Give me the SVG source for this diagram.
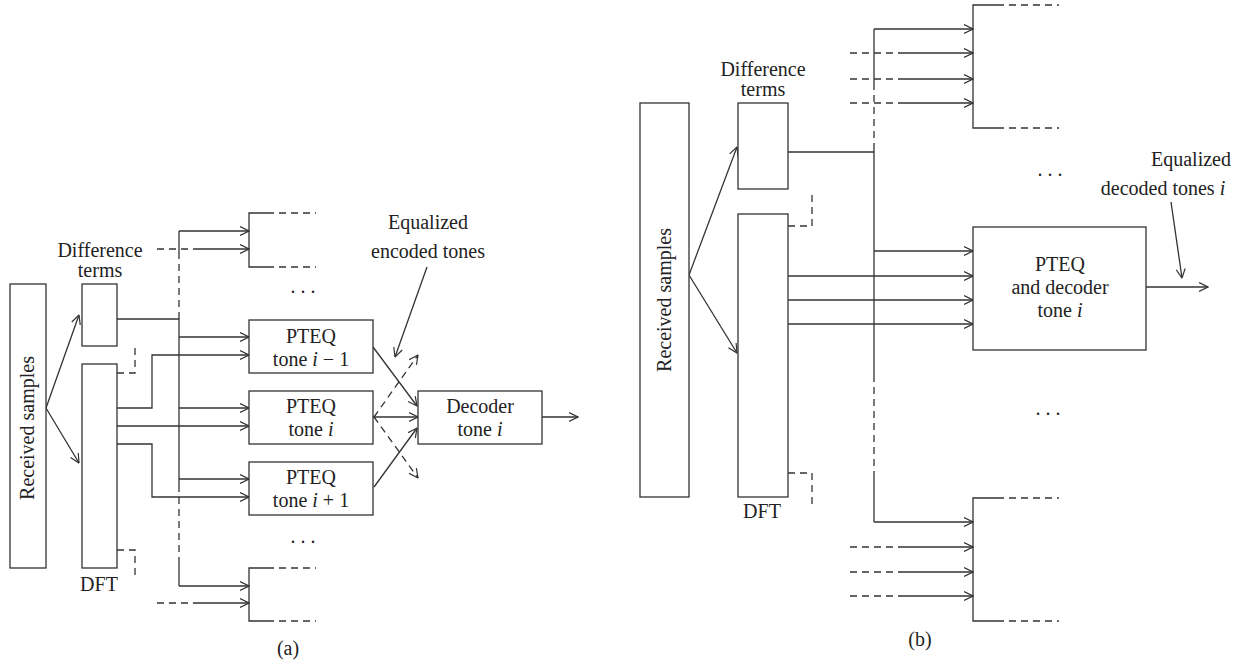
<svg xmlns="http://www.w3.org/2000/svg" width="1242" height="667" viewBox="0 0 1242 667">
<style>
  .box { fill: #fff; stroke: #333; stroke-width: 1.3; }
  .ln { fill: none; stroke: #333; stroke-width: 1.3; }
  .ds { fill: none; stroke: #333; stroke-width: 1.3; stroke-dasharray: 7 5; }
  .ar { marker-end: url(#ah); }
  text { font-family: "Liberation Serif", "Times New Roman", serif; font-size: 20px; fill: #222; text-anchor: middle; }
  .it { font-style: italic; }
</style>
<defs>
  <marker id="ah" viewBox="0 0 10 10" refX="9.5" refY="5" markerWidth="10" markerHeight="10" markerUnits="userSpaceOnUse" orient="auto">
    <path d="M0.5,0.5 L9.5,5 L0.5,9.5" fill="none" stroke="#333" stroke-width="1.2"/>
  </marker>
</defs>
<rect width="1242" height="667" fill="#fff"/>

<!-- ===== Diagram (a) ===== -->
<g id="connectors-a">
  <path class="ln ar" d="M46,408 L79,315"/>
  <path class="ln ar" d="M46,408 L79,463"/>
  <path class="ds" d="M117,373 H135 V343"/>
  <path class="ds" d="M117,550 H135 V577"/>
  <path class="ln" d="M117,319 H179"/>
  <path class="ln" d="M179,231 V252"/>
  <path class="ds" d="M179,252 V319"/>
  <path class="ln" d="M179,319 V485"/>
  <path class="ds" d="M179,485 V560"/>
  <path class="ln" d="M179,560 V586"/>
  <path class="ln ar" d="M179,231 H249"/>
  <path class="ln ar" d="M179,337 H249"/>
  <path class="ln ar" d="M179,408 H249"/>
  <path class="ln ar" d="M179,479 H249"/>
  <path class="ln ar" d="M179,586 H249"/>
  <path class="ln ar" d="M117,408 H152 V355 H249"/>
  <path class="ln ar" d="M117,426 H249"/>
  <path class="ln ar" d="M117,444 H152 V497 H249"/>
  <path class="ds" d="M157,249 H200"/>
  <path class="ln ar" d="M200,249 H249"/>
  <path class="ds" d="M157,603 H200"/>
  <path class="ln ar" d="M200,603 H249"/>
  <path class="ln ar" d="M373,347 L417,406"/>
  <path class="ln ar" d="M373,417 H418"/>
  <path class="ln ar" d="M374,487 L417,428"/>
  <path class="ds ar" d="M374,417 L418,355"/>
  <path class="ds ar" d="M374,417 L418,478"/>
  <path class="ln ar" d="M542,417 H578"/>
  <path class="ln ar" d="M427,267 L395,357"/>
</g>

<g id="recv-a">
  <rect class="box" x="10" y="284" width="36" height="284"/>
  <text transform="translate(34,428) rotate(-90)">Received samples</text>
</g>
<g id="diff-a">
  <rect class="box" x="82" y="284" width="35" height="62"/>
  <text x="100" y="257">Difference</text>
  <text x="100" y="277">terms</text>
</g>
<g id="dft-a">
  <rect class="box" x="82" y="364" width="35" height="204"/>
  <text x="99" y="591">DFT</text>
</g>
<g id="partial-top-a">
  <path class="ln" d="M267,213 H249 V267 H267"/>
  <path class="ds" d="M267,213 H316 M267,267 H316"/>
</g>
<text x="303" y="293">. . .</text>
<g id="pteq-im1">
  <rect class="box" x="249" y="320" width="124" height="53"/>
  <text x="311" y="343">PTEQ</text>
  <text x="311" y="366">tone <tspan class="it">i</tspan> − 1</text>
</g>
<g id="pteq-i">
  <rect class="box" x="249" y="391" width="124" height="53"/>
  <text x="311" y="413">PTEQ</text>
  <text x="311" y="436">tone <tspan class="it">i</tspan></text>
</g>
<g id="pteq-ip1">
  <rect class="box" x="249" y="462" width="124" height="53"/>
  <text x="311" y="484">PTEQ</text>
  <text x="311" y="507">tone <tspan class="it">i</tspan> + 1</text>
</g>
<text x="303" y="543">. . .</text>
<g id="partial-bottom-a">
  <path class="ln" d="M267,568 H249 V621 H267"/>
  <path class="ds" d="M267,568 H316 M267,621 H316"/>
</g>
<g id="decoder-a">
  <rect class="box" x="418" y="391" width="124" height="53"/>
  <text x="480" y="413">Decoder</text>
  <text x="480" y="436">tone <tspan class="it">i</tspan></text>
</g>
<g id="label-eq-a">
  <text x="428" y="229">Equalized</text>
  <text x="428" y="258">encoded tones</text>
</g>
<text x="288" y="655">(a)</text>

<!-- ===== Diagram (b) ===== -->
<g id="connectors-b">
  <path class="ln ar" d="M689,275 L737,147"/>
  <path class="ln ar" d="M689,275 L737,353"/>
  <path class="ds" d="M788,226 H812 V190"/>
  <path class="ds" d="M788,473 H812 V508"/>
  <path class="ln" d="M788,152 H874"/>
  <path class="ln" d="M874,29 V83"/>
  <path class="ds" d="M874,83 V145"/>
  <path class="ln" d="M874,145 V375"/>
  <path class="ds" d="M874,375 V473"/>
  <path class="ln" d="M874,473 V522"/>
  <path class="ln ar" d="M874,29 H973"/>
  <path class="ln ar" d="M874,251 H973"/>
  <path class="ln ar" d="M788,276 H973"/>
  <path class="ln ar" d="M788,300 H973"/>
  <path class="ln ar" d="M788,324 H973"/>
  <path class="ln ar" d="M874,522 H973"/>
  <path class="ds" d="M850,53 H903 M850,79 H903 M850,103 H903"/>
  <path class="ln ar" d="M903,53 H973"/>
  <path class="ln ar" d="M903,79 H973"/>
  <path class="ln ar" d="M903,103 H973"/>
  <path class="ds" d="M850,547 H903 M850,572 H903 M850,596 H903"/>
  <path class="ln ar" d="M903,547 H973"/>
  <path class="ln ar" d="M903,572 H973"/>
  <path class="ln ar" d="M903,596 H973"/>
  <path class="ln ar" d="M1146,287 H1208"/>
  <path class="ln ar" d="M1171,202 L1182,278"/>
</g>

<g id="recv-b">
  <rect class="box" x="640" y="103" width="49" height="394"/>
  <text transform="translate(671,300) rotate(-90)">Received samples</text>
</g>
<g id="diff-b">
  <rect class="box" x="738" y="103" width="50" height="86"/>
  <text x="763" y="76">Difference</text>
  <text x="763" y="96">terms</text>
</g>
<g id="dft-b">
  <rect class="box" x="738" y="214" width="50" height="283"/>
  <text x="762" y="518">DFT</text>
</g>
<g id="partial-top-b">
  <path class="ln" d="M997,5 H973 V128 H997"/>
  <path class="ds" d="M997,5 H1059 M997,128 H1059"/>
</g>
<text x="1050" y="176">. . .</text>
<g id="pteq-dec-b">
  <rect class="box" x="973" y="227" width="173" height="123"/>
  <text x="1060" y="271">PTEQ</text>
  <text x="1060" y="294">and decoder</text>
  <text x="1060" y="317">tone <tspan class="it">i</tspan></text>
</g>
<text x="1048" y="415">. . .</text>
<g id="partial-bottom-b">
  <path class="ln" d="M997,498 H973 V621 H997"/>
  <path class="ds" d="M997,498 H1059 M997,621 H1059"/>
</g>
<g id="label-eq-b">
  <text x="1191" y="166">Equalized</text>
  <text x="1163" y="195">decoded tones <tspan class="it">i</tspan></text>
</g>
<text x="920" y="646">(b)</text>
</svg>
